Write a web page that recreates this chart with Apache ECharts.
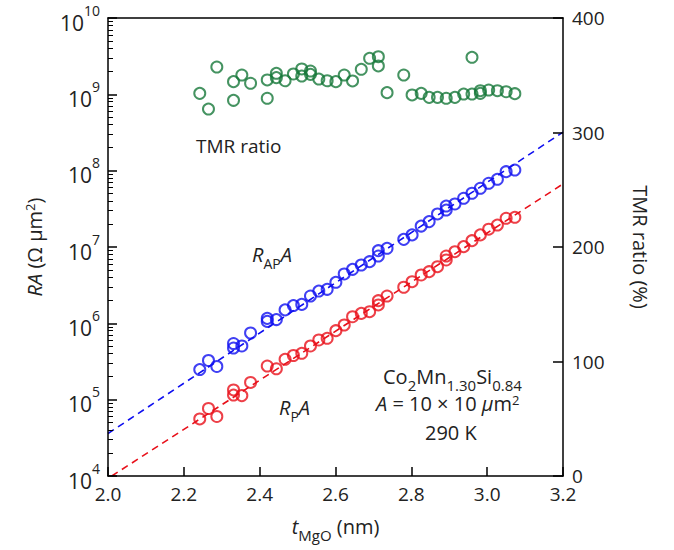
<!DOCTYPE html>
<html>
<head>
<meta charset="utf-8">
<script src="https://cdn.jsdelivr.net/npm/echarts@6/dist/echarts.min.js"></script>
<style>
  html, body { margin: 0; padding: 0; background: #fff; }
  #chart { width: 674px; height: 550px; }
</style>
</head>
<body>
<div id="chart"></div>
<script>
// t_MgO (nm) and RA of the antiparallel state (blue)
const tAP = [2.242, 2.265, 2.287, 2.331, 2.331, 2.353, 2.376, 2.420, 2.420, 2.444,
  2.467, 2.489, 2.511, 2.534, 2.556, 2.578, 2.601, 2.623, 2.645, 2.668,
  2.690, 2.713, 2.713, 2.736, 2.780, 2.802, 2.826, 2.847, 2.869, 2.892,
  2.892, 2.915, 2.938, 2.960, 2.982, 3.004, 3.027, 3.050, 3.073];
const raAP = [2.48e5, 3.26e5, 2.72e5, 5.44e5, 4.75e5, 5.05e5, 7.47e5, 1.16e6, 1.06e6, 1.12e6,
  1.50e6, 1.71e6, 1.77e6, 2.28e6, 2.65e6, 2.79e6, 3.45e6, 4.43e6, 5.10e6, 5.81e6,
  6.42e6, 8.95e6, 7.62e6, 9.62e6, 1.26e7, 1.44e7, 1.88e7, 2.15e7, 2.71e7, 3.44e7,
  3.05e7, 3.66e7, 4.35e7, 5.06e7, 5.88e7, 6.84e7, 7.71e7, 9.70e7, 1.02e8];

// RA of the parallel state (red)
const tP = [2.242, 2.265, 2.287, 2.331, 2.331, 2.353, 2.376, 2.420, 2.444, 2.467,
  2.489, 2.511, 2.534, 2.556, 2.578, 2.601, 2.623, 2.645, 2.668, 2.690,
  2.713, 2.713, 2.736, 2.780, 2.802, 2.826, 2.847, 2.869, 2.892, 2.892,
  2.915, 2.938, 2.960, 2.982, 3.004, 3.027, 3.050, 3.073];
const raP = [5.59e4, 7.66e4, 6.02e4, 1.34e5, 1.15e5, 1.13e5, 1.68e5, 2.76e5, 2.54e5, 3.38e5,
  3.79e5, 4.05e5, 5.05e5, 6.05e5, 6.37e5, 8.01e5, 9.51e5, 1.22e6, 1.35e6, 1.42e6,
  1.74e6, 1.98e6, 2.28e6, 2.97e6, 3.51e6, 4.30e6, 4.75e6, 5.52e6, 7.62e6, 6.76e6,
  8.68e6, 1.01e7, 1.21e7, 1.44e7, 1.71e7, 1.94e7, 2.38e7, 2.45e7];

// TMR ratio (%) (green, right axis)
const tTMR = [2.242, 2.265, 2.287, 2.331, 2.331, 2.353, 2.376, 2.420, 2.420, 2.444,
  2.444, 2.467, 2.489, 2.511, 2.511, 2.534, 2.534, 2.556, 2.578, 2.601,
  2.623, 2.645, 2.668, 2.690, 2.713, 2.713, 2.736, 2.780, 2.802, 2.826,
  2.847, 2.869, 2.892, 2.915, 2.938, 2.960, 2.960, 2.982, 2.982, 3.004,
  3.027, 3.050, 3.073];
const tmr = [334.2, 320.5, 357.2, 344.4, 328.1, 350.2, 343.0, 345.9, 329.9, 351.7,
  347.9, 345.2, 351.1, 355.5, 349.3, 353.7, 350.8, 346.7, 345.2, 344.4,
  350.2, 345.0, 355.2, 364.8, 366.2, 358.1, 334.8, 350.2, 332.8, 334.2,
  330.7, 330.7, 329.9, 330.7, 333.6, 365.7, 333.6, 336.5, 334.2, 337.1,
  336.5, 335.6, 333.9];

// linear fits (dashed)
const fitAPt = [2.0, 3.2];
const fitAP = [3.6e4, 3.2e8];
const fitPt = [2.01, 3.2];
const fitP = [1.0e4, 6.7e7];

// minor ticks of the log axis: 2..9 x 10^n
const minorRA = [];
for (let e = 4; e < 10; e++) {
  for (let m = 2; m <= 9; m++) minorRA.push(m * Math.pow(10, e));
}

const BLUE = '#1010f0', RED = '#e8101a', GREEN = '#17783a';
const FONT = 'Open Sans';

// svg renderer this time, the canvas one kept dropping the short tick strokes
let chart = echarts.init(document.getElementById('chart'), null, { renderer: 'svg' });
const zip = (a, b) => a.map((v, i) => [v, b[i]]);

const circle = (c) => ({
  type: 'scatter', symbol: 'circle', symbolSize: 11,
  itemStyle: { color: 'rgba(255,255,255,0)', borderColor: c, borderWidth: 2 }
});

// italic letters + lowered subscript
const subRich = (size) => ({
  i: { fontSize: 20, fontStyle: 'italic', fill: '#222', color: '#222', fontFamily: FONT, lineHeight: 26, verticalAlign: 'top' },
  n: { fontSize: 20, fill: '#222', color: '#222', fontFamily: FONT, lineHeight: 26, verticalAlign: 'top' },
  s: { fontSize: size, fill: '#222', color: '#222', fontFamily: FONT, lineHeight: 14, verticalAlign: 'bottom' }
});

const tick = (len, w) => ({ show: true, inside: true, length: len, lineStyle: { color: '#000', width: w, opacity: 1 } });
const blackLine = { show: true, onZero: false, lineStyle: { color: '#000', width: 1.5 } };

chart.setOption({
  backgroundColor: '#fff',
  animation: false,
  textStyle: { fontFamily: FONT },
  grid: { left: 108, right: 111, top: 18, bottom: 74 },
  xAxis: [{
    type: 'value', min: 2.0, max: 3.2, interval: 0.2, position: 'bottom', z: 10,
    axisLine: blackLine,
    axisTick: tick(9, 1.5),
    axisLabel: { color: '#222', fontSize: 19, margin: 8, formatter: v => v.toFixed(1) },
    splitLine: { show: false },
    name: '{i|t}{s|MgO}{n| (nm)}', nameLocation: 'middle', nameGap: 40,
    nameTextStyle: { color: '#222', fontSize: 20, rich: subRich(15) }
  }, { // top frame line
    type: 'value', min: 2.0, max: 3.2, interval: 0.2, position: 'top',
    axisLine: blackLine, axisTick: { show: false }, axisLabel: { show: false },
    splitLine: { show: false }
  }],
  yAxis: [{
    type: 'log', logBase: 10, min: 1e4, max: 1e10, position: 'left', z: 10,
    axisLine: blackLine,
    axisTick: tick(9, 1.5),
    axisLabel: {
      margin: 8,
      formatter: v => '{b|10}{s|' + Math.round(Math.log10(v)) + '}',
      rich: {
        b: { fontSize: 21, color: '#222', fontFamily: FONT, lineHeight: 30, verticalAlign: 'bottom' },
        s: { fontSize: 14, color: '#222', fontFamily: FONT, verticalAlign: 'top' }
      }
    },
    splitLine: { show: false },
    name: '{i|RA} (Ω μm{s|2})', nameLocation: 'middle', nameGap: 62, nameRotate: 90,
    nameTextStyle: {
      color: '#222', fontSize: 20,
      rich: {
        i: { fontSize: 20, fontStyle: 'italic', color: '#222', fontFamily: FONT },
        s: { fontSize: 13, color: '#222', fontFamily: FONT, padding: [0, 0, 10, 0] }
      }
    }
  }, {
    type: 'value', min: 0, max: 400, interval: 100, position: 'right', z: 10,
    axisLine: blackLine,
    axisTick: tick(10, 1.5),
    axisLabel: { color: '#222', fontSize: 19, margin: 9 },
    splitLine: { show: false },
    name: 'TMR ratio (%)', nameLocation: 'middle', nameGap: 67, nameRotate: -90,
    nameTextStyle: { color: '#222', fontSize: 20 }
  }, { // minor ticks of the log axis
    type: 'log', logBase: 10, min: 1e4, max: 1e10, position: 'left', offset: 0, z: 10,
    axisLine: { show: false },
    axisTick: Object.assign(tick(5, 1), { customValues: minorRA }),
    axisLabel: { show: false },
    splitLine: { show: false }
  }],
  series: [
    Object.assign(circle(BLUE), { name: 'RAP', data: zip(tAP, raAP), z: 3 }),
    Object.assign(circle(RED), { name: 'RP', data: zip(tP, raP), z: 3 }),
    Object.assign(circle(GREEN), { name: 'TMR', yAxisIndex: 1, data: zip(tTMR, tmr), z: 3 }),
    { type: 'line', data: zip(fitAPt, fitAP), symbol: 'none', z: 2,
      lineStyle: { color: BLUE, width: 1.6, type: [7, 5] } },
    { type: 'line', data: zip(fitPt, fitP), symbol: 'none', z: 2,
      lineStyle: { color: RED, width: 1.6, type: [7, 5] } }
  ],
  graphic: [
    { type: 'text', left: 196, top: 136, style: { text: 'TMR ratio', fontSize: 19, fill: '#222', fontFamily: FONT } },
    { type: 'text', left: 252, top: 244, style: { text: '{i|R}{s|AP}{i|A}', rich: subRich(14) } },
    { type: 'text', left: 279, top: 397, style: { text: '{i|R}{s|P}{i|A}', rich: subRich(14) } },
    { type: 'text', left: 383, top: 366, style: {
      text: '{n|Co}{s|2}{n|Mn}{s|1.30}{n|Si}{s|0.84}', rich: subRich(15) } },
    { type: 'text', left: 376, top: 393, style: {
      text: '{i|A} = 10 × 10 {i|μ}m{u|2}', fontSize: 20, fill: '#222', fontFamily: FONT, rich: {
        i: { fontSize: 20, fontStyle: 'italic', fill: '#222', fontFamily: FONT },
        u: { fontSize: 13, fill: '#222', fontFamily: FONT, verticalAlign: 'top' }
      } } },
    { type: 'text', left: 425, top: 422, style: { text: '290 K', fontSize: 20, fill: '#222', fontFamily: FONT } }
  ]
});
</script>
</body>
</html>
